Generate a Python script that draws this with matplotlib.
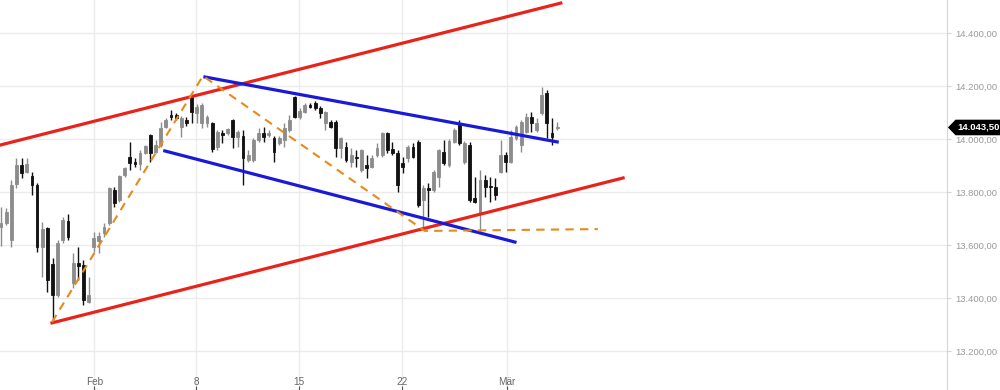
import matplotlib
matplotlib.use("Agg")
import matplotlib.pyplot as plt
from matplotlib.patches import Rectangle, Polygon

plt.rcParams['font.family'] = ['Liberation Sans', 'DejaVu Sans']

# candle data (index-based x axis, 4 candles per trading day)
opens = [13668, 13683, 13619, 13830, 13902, 13875, 13860, 13826, 13592, 13664,
         13528, 13411, 13619, 13691, 13457, 13532, 13524, 13385, 13592, 13615,
         13645, 13683, 13808, 13770, 13864, 13932, 13913, 13906, 13947, 14015,
         13951, 13977, 14045, 14091, 14091, 14045, 14072, 14159, 14098, 14060,
         14060, 14060, 13970, 14023, 14023, 14072, 14008, 14011, 13921, 13921,
         13996, 14023, 14015, 14004, 13985, 13996, 14034, 14159, 14083, 14102,
         14128, 14136, 14117, 14060, 14064, 14064, 13966, 13970, 13913, 13932,
         13883, 13902, 13894, 13940, 13940, 14023, 13962, 13947, 13909, 13928,
         13970, 13989, 13770, 13815, 13808, 13857, 13951, 13902, 13989, 14053,
         13913, 13977, 13777, 13721, 13845, 13823, 13819, 13875, 13940, 13913,
         14004, 13977, 14026, 14083, 14034, 14098, 14174, 14023, 14042]
highs = [13743, 13740, 13845, 13928, 13928, 13928, 13875, 13834, 13687, 13668,
         13551, 13619, 13706, 13717, 13570, 13592, 13543, 13479, 13649, 13649,
         13683, 13819, 13819, 13864, 13894, 13989, 13928, 13958, 13977, 14019,
         13996, 14064, 14079, 14109, 14098, 14087, 14083, 14166, 14132, 14136,
         14091, 14064, 14034, 14034, 14042, 14075, 14034, 14034, 13958, 14004,
         14042, 14045, 14034, 14011, 14011, 14060, 14091, 14162, 14117, 14136,
         14136, 14143, 14125, 14106, 14072, 14072, 14008, 13989, 13966, 13958,
         13962, 13940, 13940, 13985, 14026, 14026, 13989, 13958, 13932, 13977,
         13985, 13996, 13826, 13834, 13883, 13962, 13996, 14000, 14042, 14072,
         13992, 13989, 13857, 13883, 13864, 13857, 13853, 13996, 13951, 14034,
         14053, 14072, 14098, 14102, 14079, 14196, 14185, 14079, 14064]
lows = [13596, 13675, 13592, 13815, 13853, 13872, 13789, 13574, 13479, 13423,
        13309, 13404, 13608, 13619, 13438, 13468, 13374, 13381, 13574, 13570,
        13630, 13675, 13743, 13762, 13857, 13883, 13894, 13883, 13943, 13913,
        13947, 13970, 14042, 14072, 14072, 14008, 14049, 14060, 14060, 14042,
        14045, 13951, 13958, 13985, 14015, 13966, 13970, 13826, 13913, 13913,
        13989, 13989, 14008, 13913, 13977, 13970, 14026, 14079, 14075, 14098,
        14117, 14109, 14079, 14034, 14042, 13932, 13928, 13913, 13894, 13894,
        13875, 13853, 13891, 13932, 13932, 13947, 13940, 13800, 13872, 13913,
        13928, 13743, 13664, 13706, 13800, 13819, 13902, 13894, 13985, 13977,
        13906, 13762, 13758, 13649, 13781, 13762, 13770, 13872, 13875, 13909,
        13996, 13951, 14023, 14026, 14026, 14091, 14004, 13977, 14034]
closes = [13683, 13724, 13826, 13902, 13872, 13906, 13826, 13592, 13660, 13468,
          13411, 13608, 13694, 13630, 13532, 13521, 13392, 13411, 13626, 13634,
          13668, 13815, 13758, 13860, 13891, 13909, 13906, 13947, 13974, 13947,
          13977, 14042, 14072, 14083, 14079, 14079, 14060, 14102, 14121, 14128,
          14083, 13962, 14026, 14015, 14038, 14008, 14026, 13928, 13940, 13996,
          14023, 14008, 14023, 13951, 14004, 14042, 14072, 14083, 14106, 14128,
          14121, 14117, 14098, 14102, 14045, 13966, 14004, 13921, 13940, 13928,
          13958, 13891, 13928, 13966, 14023, 13958, 13947, 13826, 13894, 13970,
          13932, 13751, 13815, 13808, 13875, 13958, 13909, 13992, 14034, 13985,
          13985, 13770, 13762, 13845, 13819, 13819, 13789, 13940, 13913, 14008,
          14045, 14064, 14083, 14060, 14060, 14166, 14060, 14008, 14043.5]

last_price = 14043.5

# weekly date labels (candle index of each label)
tick_pos = [18.1, 37.9, 57.9, 77.9, 98.3]
tick_labels = ["Feb", "8", "15", "22", "Mär"]
price_ticks = [13200, 13400, 13600, 13800, 14000, 14200, 14400]

# drawn trend lines: (index, price) endpoints
red_upper = ([-0.2, 108.7], [13977, 14513])
red_lower = ([9.9, 120.8], [13306, 13853])
blue_upper = ([39.6, 108.0], [14234, 13989])
blue_lower = ([31.8, 99.8], [13955, 13611])
orange_x = [9.9, 39.2, 82.3, 115.9]
orange_y = [13309, 14238, 13653, 13660]


def de_fmt(v):
    return '{:,.2f}'.format(v).replace(',', 'X').replace('.', ',').replace('X', '.')


fig = plt.figure(figsize=(10, 3.9), dpi=100)
ax = fig.add_axes([0, 0, 0.947, 1])
ax.set_xlim(-0.2, 183.7)
ax.set_ylim(13052.7, 14524.6)

grid_c = '#ebebeb'
for p in price_ticks:
    ax.axhline(p, color=grid_c, lw=1, zorder=0)
for t in tick_pos:
    ax.axvline(t, color=grid_c, lw=1, zorder=0)

w = 0.55
for i in range(len(opens)):
    o, h, l, c = opens[i], highs[i], lows[i], closes[i]
    col = '#111111' if c < o else '#8c8c8c'
    ax.vlines(i, l, h, color=col, lw=1, zorder=2)
    lo = min(o, c)
    hgt = max(abs(c - o), 2)
    ax.add_patch(Rectangle((i - w / 2, lo), w, hgt, facecolor=col,
                           edgecolor=col, lw=0.6, zorder=3))

ax.plot(*red_upper, color='#e8231a', lw=2.3, zorder=4)
ax.plot(*red_lower, color='#e8231a', lw=2.3, zorder=4)
ax.plot(*blue_upper, color='#1a1ad6', lw=2.3, zorder=4)
ax.plot(*blue_lower, color='#1a1ad6', lw=2.3, zorder=4)
ax.plot(orange_x, orange_y, color='#e88a1a', lw=1.5, ls=(0, (4, 3)), zorder=4)

# axes styling
for s in ['top', 'left', 'bottom']:
    ax.spines[s].set_visible(False)
ax.spines['right'].set_color('#d6d6d6')
ax.yaxis.tick_right()
ax.set_yticks(price_ticks)
ax.set_yticklabels([de_fmt(p) for p in price_ticks])
ax.tick_params(axis='y', length=3, color='#d6d6d6', labelcolor='#999999',
               labelsize=6.8, pad=3)
ax.set_xticks(tick_pos)
ax.set_xticklabels([])
ax.tick_params(axis='x', direction='in', length=3, color='#555555')
for t, lab in zip(tick_pos, tick_labels):
    ax.text(t, 0.021, lab, transform=ax.get_xaxis_transform(), ha='center',
            va='center', fontsize=7.2, color='#666666')

# last price marker
ly = (last_price - 13052.7) / (14524.6 - 13052.7)
marker = Polygon([(1.001, ly), (1.009, ly + 0.02), (1.056, ly + 0.02),
                  (1.056, ly - 0.02), (1.009, ly - 0.02)], closed=True,
                 transform=ax.transAxes, clip_on=False, facecolor='black',
                 edgecolor='none', zorder=10)
ax.add_patch(marker)
ax.text(1.0335, ly, de_fmt(last_price), transform=ax.transAxes, ha='center',
        va='center', fontsize=6.8, color='white', fontweight='bold', zorder=11)

fig.savefig('out.png', dpi=100)
